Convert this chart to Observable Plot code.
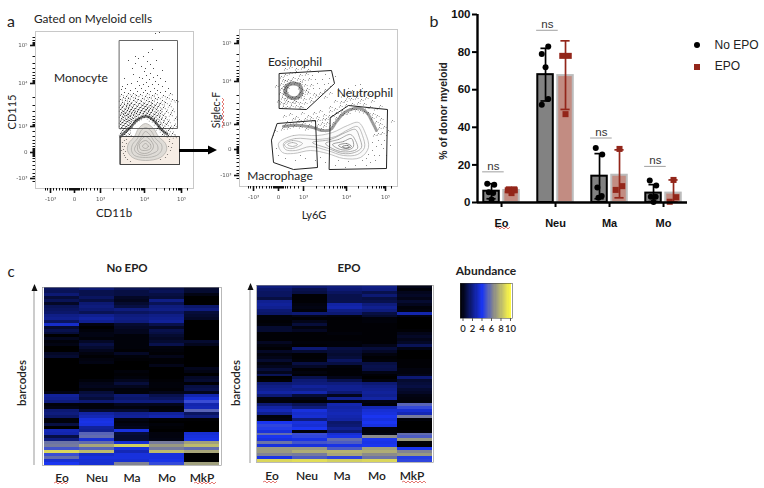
<!DOCTYPE html>
<html><head><meta charset="utf-8">
<script src="https://cdn.jsdelivr.net/npm/d3@7"></script>
<script src="https://cdn.jsdelivr.net/npm/@observablehq/plot@0.6"></script>
<style>
html,body{margin:0;padding:0;background:#fff;width:764px;height:488px;overflow:hidden}
#fig{position:relative;width:764px;height:488px;overflow:hidden;font-family:Lato,"Open Sans",sans-serif;color:#222}
.p{position:absolute}
.p svg{display:block;background:transparent;overflow:visible}
.l{position:absolute;white-space:nowrap;line-height:1;transform:translate(-50%,-50%)}
.flow{filter:blur(.35px)}
.heat{filter:blur(.4px)}
</style></head><body><div id="fig"></div>
<script>
// ---------- panel a: channel-scale flow data (axis ticks in channel units)
const flowAXTicks=[50,74,100,144,181], flowAXLabels=["-10³","0","10³","10⁴","10⁵"];
const flowAYTicks=[45,83,126,152,178], flowAYLabels=["10⁵","10⁴","10³","0","-10³"];
const flowAXMinor=[45,47,53,56,59,62,65,67,69,70,71,72,73,75,76,77,78,79,81,83,86,90,94,97,113,121,126,130,134,137,139,141,142,143,156,164,169,173,176,178,179,180,187];
const flowAYMinor=[37,40,42,43,44,56,63,68,72,75,78,80,81,82,97,105,111,116,119,122,124,125,131,136,140,143,146,148,149,150,151,153,154,155,156,158,161,165,169,173,176,181];
const flowAMonoGate=[[119,40],[177,40],[177,128],[119,128]];
const flowALowGate=[[120,136],[179,136],[179,164],[120,164]];
const flowARings=[
[[145,123],[153,128],[158,136],[165,143],[166,150],[160,157],[145,160],[132,157],[127,150],[128,143],[134,136],[138,128]],
[[145,127],[151,131],[155,138],[161,144],[161,150],[156,155],[145,157],[134,155],[131,150],[132,144],[137,138],[140,131]],
[[145,131],[150,135],[153,140],[157,145],[157,150],[152,153],[145,155],[137,153],[134,149],[136,144],[140,138]],
[[145,136],[151,141],[153,146],[150,151],[144,153],[138,151],[137,146],[140,140]],
[[145,140],[150,144],[150,148],[145,150],[140,149],[139,144]],
[[145,143],[148,146],[145,148],[142,146]]];
const flowABand=[[120,136],[124,132],[130,127],[136,120],[141,117],[146,116],[151,118],[156,123],[161,129],[167,134]];
const flowADots=[[155,33],[159,32],[144,71],[148,52],[143,56],[152,49],[135,56],[138,58],[147,61],[156,60],[150,64],[141,66],[145,68],[153,68],[135,63],[162,70],[150,73],[157,75],[139,77],[146,75],[133,74],[153,77],[142,78],[149,79],[160,78],[165,81],[137,81],[155,81],[146,82],[131,83],[152,84],[143,84],[139,85],[158,84],[127,84],[122,86],[148,86],[162,86],[125,88],[135,88],[154,88],[141,88],[168,88],[121,89],[145,90],[130,90],[157,90],[150,91],[137,91],[165,91],[124,92],[160,92],[143,92],[133,93],[128,93],[147,93],[155,93],[170,93],[121,94],[140,94],[152,95],[136,95],[163,95],[126,96],[145,96],[131,96],[158,97],[149,97],[123,97],[167,97],[142,98],[135,98],[128,98],[155,98],[172,99],[120,99],[138,99],[146,100],[152,100],[133,100],[162,100],[125,100],[141,101],[149,101],[129,101],[157,102],[122,102],[136,102],[165,102],[144,103],[131,103],[152,103],[127,103],[139,103],[160,103],[147,104],[124,104],[134,104],[155,105],[120,105],[142,105],[129,105],[150,105],[169,105],[137,106],[126,106],[145,106],[158,106],[132,107],[122,107],[153,107],[140,107],[163,107],[147,108],[128,108],[135,108],[143,108],[150,108],[125,109],[156,109],[138,109],[120,109],[131,109],[146,109],[160,110],[133,110],[141,110],[127,110],[152,110],[123,111],[137,111],[148,111],[144,111],[166,111],[129,111],[156,112],[134,112],[121,112],[140,112],[151,112],[125,113],[147,113],[131,113],[143,113],[160,113],[136,113],[128,114],[154,114],[123,114],[139,114],[149,114],[133,115],[163,115],[120,115],[126,115],[157,115],[145,115],[130,116],[142,116],[152,116],[136,116],[123,117],[148,117],[159,117],[128,117],[165,118],[133,118],[154,118],[139,118],[121,118],[126,119],[150,119],[161,119],[131,119],[137,119],[124,120],[156,120],[120,121],[129,120],[135,120],[153,120],[168,121],[127,121],[158,121],[122,122],[133,122],[163,122],[125,123],[155,123],[130,123],[120,124],[128,125],[160,124],[166,124],[123,125],[158,126],[126,126],[121,127],[163,127],[130,126],[170,127],[124,128],[157,128],[128,129],[161,130],[122,130],[168,130],[126,132],[165,132],[120,133],[172,133],[124,134],[162,134],[129,134],[168,135],[174,136],[172,110],[175,118],[170,114],[174,125],[176,100],[128,60],[124,78],[132,68]];
const flowAGreyDots=[[122,142],[124,146],[121,150],[123,153],[125,157],[127,159],[130,161],[124,140],[126,143],[168,146],[170,150],[167,154],[172,143],[165,157],[160,159],[122,146],[123,149],[125,151],[124,155],[126,139],[169,141],[171,147],[169,139]];
// ---------- panel a right: channel-scale flow data
const flowBXTicks=[253,278,303,346,385], flowBXLabels=["-10³","0","10³","10⁴","10⁵"];
const flowBYTicks=[43,81,124,149,175], flowBYLabels=["10⁵","10⁴","10³","0","-10³"];
const flowBXMinor=[248,250,256,259,262,266,269,271,273,274,275,276,277,279,280,281,282,283,285,287,290,294,298,316,324,329,333,337,340,342,344,345,358,367,372,376,379,381,383,384,391];
const flowBYMinor=[35,38,40,41,42,54,61,66,70,73,76,78,79,80,95,103,109,114,117,120,122,123,129,134,138,141,144,146,147,148,150,151,152,153,155,158,162,166,170,173,178];
const flowBEosGate=[[279,73],[331,70],[334,83],[306,109],[279,108]];
const flowBNeuGate=[[330,117],[348,105],[387,109],[386,168],[329,169]];
const flowBMacGate=[[277,123],[315,120],[317,167],[293,169],[273,162],[271,140]];
const flowBRings=[
[[278,143],[293,135],[317,135],[332,132],[347,125],[358,122],[365,133],[368,147],[360,157],[343,158],[327,153],[310,150],[293,153],[282,152]],
[[283,143],[295,138],[317,139],[335,136],[348,129],[357,126],[362,135],[364,147],[357,154],[343,155],[327,150],[310,146],[295,150],[285,149]],
[[284,144],[292,140],[302,143],[292,148],[286,147]],
[[287,144],[292,142],[297,144],[292,146]],
[[312,142],[330,139],[345,132],[355,129],[359,137],[361,147],[354,152],[342,153],[328,148]],
[[325,143],[338,139],[350,134],[355,140],[357,148],[350,151],[340,151],[330,147]],
[[332,144],[343,141],[351,138],[353,146],[349,149],[340,149]],
[[338,145],[346,143],[351,146],[345,148]],
[[342,146],[347,145],[349,146.5],[345,147.5]]];
const flowBBand=[[283,126],[291,125],[300,125],[312,127],[322,130],[330,129],[336,121],[343,113],[350,109],[360,108],[367,113],[372,122],[376,130]];
const flowBEosRing=[[293,83],[299,85],[301,91],[297,97],[290,97],[285,92],[287,85]];
const flowBDots=[[281,76],[285,74],[290,72],[296,71],[300,74],[306,73],[312,75],[318,72],[325,74],[329,78],[283,79],[288,79],[293,77],[298,78],[303,79],[309,78],[315,79],[322,79],[328,83],[281,83],[285,84],[289,83],[295,82],[300,83],[305,84],[311,84],[317,83],[324,84],[330,86],[281,88],[284,89],[287,87],[299,87],[302,89],[307,88],[313,88],[319,88],[325,89],[280,92],[283,94],[286,91],[300,92],[303,93],[308,92],[314,93],[320,92],[282,97],[285,98],[288,96],[292,97],[296,96],[299,97],[304,98],[310,97],[316,95],[281,102],[284,103],[288,101],[292,102],[296,101],[300,102],[305,102],[311,100],[283,106],[287,106],[291,105],[296,105],[301,106],[286,86],[284,92],[285,80],[291,80],[286,100],[294,100],[283,86],[302,95],[300,81],[306,90],[285,68],[290,66],[296,68],[302,67],[308,69],[276,85],[278,100],[335,76],[338,88],[330,92],[325,96],[335,100],[342,95],[347,92],[352,90],[358,92],[362,88],[345,100],[351,98],[356,97],[361,99],[366,97],[340,105],[346,104],[352,103],[358,102],[364,103],[370,106],[375,108],[380,105],[372,100],[368,93],[348,88],[355,85],[360,84],[342,110],[336,112],[332,115],[326,118],[330,110],[322,122],[318,119],[324,114],[330,106],[282,128],[285,124],[288,127],[291,122],[294,125],[297,121],[300,126],[303,122],[306,128],[309,124],[312,120],[315,126],[318,124],[321,128],[324,125],[327,122],[330,125],[333,122],[336,117],[340,114],[344,113],[348,112],[352,108],[356,109],[360,110],[364,111],[368,112],[372,117],[376,121],[379,127],[382,132],[380,123],[384,140],[383,148],[379,155],[375,160],[370,162],[366,165],[362,160],[368,154],[372,150],[376,146],[378,140],[374,134],[388,130],[390,145],[392,120],[386,155],[284,115],[290,113],[296,116],[302,112],[308,115],[314,112],[320,110],[300,106],[275,130],[273,135],[276,148],[278,155],[285,158],[295,160],[305,158],[315,160],[325,162],[335,165],[345,167],[355,165],[287,121],[293,118],[299,119],[305,118],[311,117],[317,116],[323,118],[329,115],[335,108],[341,101],[347,97],[353,94],[366,107],[373,113],[377,115],[381,118],[384,126],[378,133],[386,135],[381,144],[372,142],[374,155],[366,158],[348,161],[338,160],[320,157],[300,155]];
// ---------- panel b
const categories=["Eo","Neu","Ma","Mo"], groups=["No EPO","EPO"];
const meansNoEpo=[6,68,14,5], meansEpo=[6.4,67.5,14.5,5];
const loNoEpo=[2,54,2,0.5], hiNoEpo=[10,82,26,9.5];
const loEpo=[5.4,49.5,2.5,0.3], hiEpo=[7.5,86,28,12];
const nsHeights=[16.3,91.6,34.3,19.2];
const ptsNoEpo=[[0,-.08,10],[0,.05,9.5],[0,-.05,5.5],[0,.03,5],[0,0,1.6],[1,-.07,52],[1,.05,55],[1,0,72],[1,-.07,79],[1,.05,83],[2,-.07,29],[2,.05,25.5],[2,-.04,8],[2,.04,3.5],[2,-.02,2.5],[3,-.07,11.7],[3,.05,9],[3,-.05,3],[3,.04,3],[3,0,.2]];
const ptsEpo=[[0,-.05,7],[0,.05,7],[0,0,5],[0,-.07,6.5],[0,.06,6.5],[1,-.06,78],[1,.06,78],[1,0,47],[2,0,28.5],[2,.05,8.7],[2,-.07,6.7],[3,0,12],[3,.05,2.8],[3,-.07,.4]];
// ---------- panel c
const heatColumns=["Eo","Neu","Ma","Mo","MkP"];
const heatNoEpo=[[2,2.4,1.8,1.6,1],[1.8,1.6,1.4,1.8,1],[2.4,1.6,1.4,1.4,.4],[1.2,2,.8,1.2,0],[1.8,1.4,.6,2.8,0],[.8,2.4,1,1.8,0],[1.8,2.6,1.4,2.6,2.2],[2,2.4,2.6,2.8,2.6],[2.2,1.8,2,2.2,1.2],[2.8,3,2.6,2.8,1],[3,3.4,2.8,3,.8],[2,3,2.6,3.2,0],[4.2,.3,1,1.6,0],[1,0,.8,.8,0],[1.6,.2,.6,1.6,0],[1.2,.4,.6,1.4,0],[0,.4,.2,1,0],[.6,.2,.2,.8,0],[.2,.8,.2,1,1],[.4,1.4,.2,1.6,.6],[0,1,.2,.3,0],[0,.6,.1,.2,0],[.8,.3,.8,.1,0],[1,.1,.2,.5,0],[0,.3,.1,.1,0],[0,.4,0,.1,0],[0,0,0,.5,0],[0,0,0,0,.6],[0,0,.2,0,.4],[0,0,.1,0,0],
[0,0,.2,0,.8],[0,.2,.6,.1,1],[0,.5,1.2,.2,.1],[0,.6,.6,.2,1.4],[0,.3,.2,.1,1.6],[.4,1.2,.2,.5,.6],[3.2,1.6,2.4,1.6,3.6],[3,1.2,2.2,2,4.4],[2.6,2.4,2.6,2.6,5.6],[.2,.2,.6,.6,3.6],[.4,.2,.3,.2,3.8],[2.4,1,1,.3,6.2],[2.6,3.4,3,3.2,2],[2.2,3.8,3.2,3.6,2.6],[.2,4.6,.4,.1,.1],[.2,4.8,.2,0,0],[1.4,4.6,.4,.2,0],[0,3.2,.6,.1,0],[3.8,3,4.6,0,0],[3.6,6.2,1.2,.3,4.4],[1.4,6.4,1,.3,4.6],[2.6,4.4,1,.4,4.8],[6.6,6.4,4.4,6.8,7.8],[6.8,8,9.2,7.6,8.6],[5.8,6.2,4.6,6.8,6.4],[9.4,8.6,3.8,8.6,8],[5.6,4.2,4.6,4.6,0],[6.4,4.6,4.6,4.6,0],[4.4,4.4,4.4,4.8,0],[5,4.4,7,5.5,7.8]];
const heatEpo=[[2.6,2.4,2.6,2.8,.5],[2.2,1.6,2.4,2.6,.2],[2,1.4,2,1.6,.6],[2,.1,1.6,2.4,.8],[1.4,.1,1.6,1.4,.5],[3,.1,1.6,1.6,1],[3.2,.3,3.4,2.6,.6],[3,.4,3.6,3,.2],[2.4,.2,2.8,2.6,.3],[2.2,2.4,2.4,1.4,3.6],[.2,.5,.3,1,.4],[.2,.1,.1,.2,0],[.1,.5,.1,.2,0],[.2,1.2,.1,.1,0],[1,.3,.1,.1,0],[1,.7,.1,.1,.1],[.1,.1,.2,.1,.5],[.1,.1,.1,.1,.8],[.1,.1,.1,.1,.5],[.7,.2,.2,.1,.8],[.3,.1,.2,.5,1.8],[.1,2.4,1.4,1.2,.4],[.8,1,1.2,.8,0],[.3,.1,1,.3,0],[.5,.1,1.2,.1,0],[1,.2,2,.2,.1],[.3,1.4,1.4,1.4,.1],[.6,.8,.2,1.6,.1],[1.2,.1,.1,1.5,.3],[.6,.3,.1,.4,.3],
[1.8,.1,.1,.1,.5],[0,1.6,.5,0,2.4],[.1,2.4,1.6,.3,1],[2.4,2.6,2.6,2.4,1.2],[2.8,3.2,3,2.8,1.4],[3,2.8,3,3,1],[3.4,3.6,2.4,3.2,.8],[2.4,1.2,.6,3,.4],[.3,.4,3,3.4,.3],[.2,.1,.3,.4,.2],[2.4,1.8,3.6,.2,6.2],[3.4,2.6,3.4,3.8,5.5],[3.8,4.6,3.6,4.4,4.4],[3,4.2,3.8,4.6,3.8],[.2,4.4,3.6,5,6.8],[.3,2.6,3.4,4.6,.2],[5,4.6,2.2,5,0],[5.4,4.4,2.4,4.6,0],[5.2,5,3,.2,0],[4.6,.2,2.4,.2,.1],[6.4,5.6,4.4,.4,6.4],[5,5.4,4.8,7.2,6],[4.6,4.8,6.4,5,7.6],[6.6,5.8,6,4.8,.2],[4.6,4.6,4.8,5,.1],[7.6,7.6,6,7.8,5],[7.6,8.2,8.4,8.2,7],[7,6.8,8,7.2,7.6],[4.8,6,5.4,6.6,5.2],[9.4,9.6,9.2,9.4,5.4]];
const legendStops=[0,.25,.5,.75,1,1.25,1.5,1.75,2,2.25,2.5,2.75,3,3.25,3.5,3.75,4,4.25,4.5,4.75,5,5.25,5.5,5.75,6,6.25,6.5,6.75,7,7.25,7.5,7.75,8,8.25,8.5,8.75,9,9.25,9.5,9.75,10,10.25,10.5];
const legendTicks=[0,2,4,6,8,10];
const heatDomain=[0,5,7.2,10], heatRange=["#000000","#1a35f0","#8b8b8a","#efeb4e"];

const fig=document.getElementById("fig");
function place(el,l,t,cls){const d=document.createElement("div");d.className="p "+(cls||"");d.style.left=l+"px";d.style.top=t+"px";d.appendChild(el);fig.appendChild(d);}
function label(txt,x,y,size,opt={}){const d=document.createElement("div");d.className="l";d.textContent=txt;d.style.left=x+"px";d.style.top=y+"px";d.style.fontSize=size+"px";if(opt.bold)d.style.fontWeight=opt.bold;if(opt.font)d.style.fontFamily=opt.font;if(opt.rotate)d.style.transform=`translate(-50%,-50%) rotate(${opt.rotate}deg)`;if(opt.color)d.style.color=opt.color;fig.appendChild(d);}
const X=d=>d[0],Y=d=>d[1];
const flowTick={fontSize:5.5,fontFamily:"DejaVu Sans",fill:"#555"};
function flow(o){
 const [x0,x1]=o.xDom,[y0,y1]=o.yDom;
 const pl=Plot.plot({width:o.w,height:o.h,marginLeft:x0-o.left,marginRight:o.left+o.w-x1,marginTop:y0-o.top,marginBottom:o.top+o.h-y1,
  x:{domain:[x0,x1],axis:null},y:{domain:[y1,y0],axis:null},
  marks:[
   Plot.frame({stroke:"#c8c8c8",strokeWidth:1}),
   ...o.under,
   ...o.rings.map((r,i)=>Plot.line(r,{x:X,y:Y,curve:"catmull-rom-closed",stroke:o.ringCol[Math.min(i,o.ringCol.length-1)],strokeWidth:.7,fill:i==0?o.ringFill:"none"})),
   ...o.over,
   Plot.axisX({ticks:o.xMinor,tickSize:2.5,tickFormat:()=>"",anchor:"bottom",strokeWidth:1,stroke:"#111",label:null}),
   Plot.axisX({ticks:o.xTicks,tickSize:5,tickPadding:4,tickFormat:(d,i)=>o.xLabels[i],anchor:"bottom",strokeWidth:1.6,stroke:"#111",label:null,...flowTick}),
   Plot.axisY({ticks:o.yMinor,tickSize:2.5,tickFormat:()=>"",anchor:"left",strokeWidth:1,stroke:"#111",label:null}),
   Plot.axisY({ticks:o.yTicks,tickSize:5,tickPadding:3,tickFormat:(d,i)=>o.yLabels[i],anchor:"left",strokeWidth:1.6,stroke:"#111",label:null,...flowTick})
  ]});
 place(pl,o.left,o.top,"flow");
}
const gate=(pts,fill,stroke)=>Plot.line(pts,{x:X,y:Y,curve:"linear-closed",stroke:stroke,strokeWidth:1,fill:fill});
const dots=(pts,fill,r,dx=0,dy=0)=>Plot.dot(pts,{x:X,y:Y,r:r,fill:fill,stroke:"none",dx,dy});
const band=(pts,w,dash,op,c)=>Plot.line(pts,{x:X,y:Y,curve:"catmull-rom",stroke:c||"#111",strokeWidth:w,strokeDasharray:dash,strokeOpacity:op});
const denseA=flowADots.filter(d=>d[1]>92), denseA2=flowADots.filter(d=>d[1]>104);
const denseB=flowBDots.filter(d=>(d[0]<312&&d[1]<108)||(d[1]>88&&d[1]<135));

flow({left:0,top:20,w:205,h:185,xDom:[35,193],yDom:[31,188],xTicks:flowAXTicks,xLabels:flowAXLabels,yTicks:flowAYTicks,yLabels:flowAYLabels,xMinor:flowAXMinor,yMinor:flowAYMinor,
 rings:flowARings,ringCol:["#aaa8a4","#a8a6a2","#a3a19d","#a09e9a"],ringFill:"#dfdcd7",
 under:[gate(flowALowGate,"#f6ede5","#444")],
 over:[gate(flowAMonoGate,"none","#666"),dots(flowAGreyDots,"#6e6a66",.6),dots(flowADots,"#111",.5),
  dots(denseA,"#111",.45,1.7,1.2),dots(denseA,"#111",.45,-1.3,1.6),dots(denseA2,"#111",.45,.8,-1.5),
  band(flowABand,2.6,"1 .9 1.6 .6 .7 1.2",.6),gate(flowALowGate,"none","#444")]});
flow({left:205,top:20,w:200,h:185,xDom:[239,397],yDom:[29,186],xTicks:flowBXTicks,xLabels:flowBXLabels,yTicks:flowBYTicks,yLabels:flowBYLabels,xMinor:flowBXMinor,yMinor:flowBYMinor,
 rings:flowBRings,ringCol:["#a8a8a8","#a4a4a4","#a0a0a0","#9a9a9a","#909090","#888","#777","#666","#555"],ringFill:"#fbfbfb",
 under:[],
 over:[dots(flowBDots,"#111",.45),dots(denseB,"#111",.42,1.6,1.1),dots(denseB,"#111",.42,-1.2,1.5),band(flowBBand,3,"1 1.4 1.5 1 .6 1.6",.42),
  Plot.line(flowBEosRing,{x:X,y:Y,curve:"catmull-rom-closed",stroke:"#111",strokeWidth:4,strokeDasharray:".9 1.2 1.3 .9",strokeOpacity:.45}),
  gate(flowBEosGate,"none","#222"),gate(flowBNeuGate,"none","#222"),gate(flowBMacGate,"none","#222")]});

// ---------- bar chart
const offset=.185,bw=.287;
const pos=(i,g)=>i+.5+(g?offset:-offset);
const barData=[...categories.map((c,i)=>({i,g:0,m:meansNoEpo[i],lo:loNoEpo[i],hi:hiNoEpo[i]})),...categories.map((c,i)=>({i,g:1,m:meansEpo[i],lo:loEpo[i],hi:hiEpo[i]}))];
const red="#93261a",capW=.085;
const seriesMarks=(g,col)=>{const data=barData.filter(d=>d.g==g);return [
 Plot.ruleX(data,{x:d=>pos(d.i,g),y1:"lo",y2:"hi",stroke:col,strokeWidth:1.7}),
 Plot.ruleY(data,{y:"hi",x1:d=>pos(d.i,g)-capW,x2:d=>pos(d.i,g)+capW,stroke:col,strokeWidth:1.7}),
 Plot.ruleY(data,{y:"lo",x1:d=>pos(d.i,g)-capW,x2:d=>pos(d.i,g)+capW,stroke:col,strokeWidth:1.7})];};
const barPlot=Plot.plot({width:344,height:240,marginLeft:57,marginRight:77,marginTop:14,marginBottom:38,
 x:{domain:[.055,3.944],axis:null},y:{domain:[0,100],axis:null},
 style:{fontFamily:"Liberation Sans",fontWeight:"bold",color:"#111"},
 marks:[
  Plot.rect(barData.filter(d=>d.g==0),{x1:d=>pos(d.i,0)-bw/2,x2:d=>pos(d.i,0)+bw/2,y1:0,y2:"m",fill:"#828282",stroke:"#000",strokeWidth:2}),
  Plot.rect(barData.filter(d=>d.g==1),{x1:d=>pos(d.i,1)-bw/2,x2:d=>pos(d.i,1)+bw/2,y1:0,y2:"m",fill:"#c28c82",stroke:"#bcbcbc",strokeWidth:2}),
  ...seriesMarks(0,"#000"),...seriesMarks(1,red),
  Plot.dot(ptsNoEpo,{x:d=>pos(d[0],0)+d[1],y:d=>d[2],r:3,fill:"#000"}),
  Plot.dot(ptsEpo,{x:d=>pos(d[0],1)+d[1],y:d=>d[2],r:3.4,symbol:"square",fill:red}),
  Plot.ruleY(nsHeights,{y:d=>d,x1:(d,i)=>i+.35-.2,x2:(d,i)=>i+.35+.2,stroke:"#888",strokeWidth:.8}),
  Plot.text(nsHeights,{y:d=>d,x:(d,i)=>i+.35,text:()=>"ns",dy:-6,fontSize:11.5,fontWeight:"normal",fill:"#333"}),
  Plot.ruleX([.055],{stroke:"#000",strokeWidth:2.4}),
  Plot.ruleY([0],{stroke:"#000",strokeWidth:2.4}),
  Plot.axisY({anchor:"left",ticks:[0,20,40,60,80,100],tickSize:5,tickPadding:2,strokeWidth:2,stroke:"#000",fontSize:11.5,fontWeight:"bold",fill:"#111",label:null}),
  Plot.axisX({anchor:"bottom",ticks:[.5,1.5,2.5,3.5],tickSize:5,tickPadding:12,tickFormat:(d,i)=>categories[i],strokeWidth:2,stroke:"#000",fontSize:11,fontWeight:"bold",fill:"#111",label:null})
 ]});
place(barPlot,420,0);

// ---------- heatmaps
function heat(rows,l,t,w,h,dx,pad){
 const tidy=rows.flatMap((r,i)=>r.map((v,j)=>({row:i,col:heatColumns[j],v})));
 const pl=Plot.plot({width:w,height:h,marginLeft:0,marginRight:0,marginTop:0,marginBottom:0,
  x:{domain:heatColumns,padding:0,axis:null,type:"band"},y:{domain:rows.map((r,i)=>i),padding:0,axis:null,type:"band"},
  color:{type:"linear",domain:heatDomain,range:heatRange},
  marks:[Plot.cell(tidy,{x:"col",y:"row",fill:"v",stroke:"none",shapeRendering:"crispEdges"}),Plot.frame({stroke:"#8a8a8a",strokeWidth:.6})]});
 place(pl,l,t,"heat");
 const ax=Plot.plot({width:w,height:22,marginLeft:0,marginRight:0,marginTop:0,marginBottom:22,
  x:{domain:heatColumns,padding:0,axis:null,type:"band"},y:{axis:null,domain:[0,1]},
  marks:[Plot.axisX({anchor:"bottom",tickSize:0,tickPadding:pad,dx,fontSize:12,fontWeight:600,fontFamily:"Lato",fill:"#222",label:null})]});
 place(ax,l,t+h,"");
}
heat(heatNoEpo,42,287,179,178,0,8);
heat(heatEpo,256,285,177,177,-3,9);

const legendPlot=Plot.plot({width:72,height:60,marginLeft:4,marginRight:16,marginTop:0,marginBottom:25,
 x:{domain:[0,10.95],axis:null},y:{domain:[0,1],axis:null},
 color:{type:"linear",domain:[0,4.5,7,10],range:heatRange},
 marks:[Plot.rect(legendStops,{x1:d=>d,x2:d=>d+.25,y1:0,y2:1,fill:d=>d,stroke:"none",shapeRendering:"crispEdges"}),
  Plot.frame({stroke:"#333",strokeWidth:.5}),
  Plot.axisX({anchor:"bottom",ticks:legendTicks,tickSize:3,tickPadding:4,dx:2.5,fontSize:9.5,fontFamily:"Lato",fontWeight:600,fill:"#222",stroke:"#555",label:null})]});
place(legendPlot,456,283);

// ---------- text
label("a",11,21,16);label("b",434,21,16);label("c",11,271,15);
label("Gated on Myeloid cells",93,19,11.8);
label("Monocyte",81,78,12);
label("CD115",11,112,11,{rotate:-90});label("CD11b",114,213,11.5);
label("Eosinophil",295,62,12);label("Neutrophil",365,93,12);label("Macrophage",280,176,12);
label("Siglec-F",216,110,10.5,{rotate:-90});label("Ly6G",314,214,11);
label("% of donor myeloid",443,111,10.5,{rotate:-90,bold:"bold",font:"Liberation Sans"});
label("No EPO",736.5,45,12,{font:"Liberation Sans"});label("EPO",727.5,66,12,{font:"Liberation Sans"});
label("No EPO",127,268,11.5,{bold:700});label("EPO",349,268,11.5,{bold:700});
label("barcodes",22,383,11.5,{rotate:-90,bold:600});label("barcodes",236,383,11.5,{rotate:-90,bold:600});
label("Abundance",486,271,12,{bold:700});
const mk=(sym,color,x,y)=>{const d=document.createElement("div");d.style.cssText=`position:absolute;left:${x-3}px;top:${y-3}px;width:6px;height:6px;background:${color};${sym?"":"border-radius:50%"}`;fig.appendChild(d);};
mk(0,"#000",697,45);mk(1,red,697,67);

// ---------- overlay arrows + spell-check squiggles
const NS="http://www.w3.org/2000/svg";
const ov=document.createElementNS(NS,"svg");ov.setAttribute("width",764);ov.setAttribute("height",488);ov.style.cssText="position:absolute;left:0;top:0;pointer-events:none";
const pth=(d,a)=>{const p=document.createElementNS(NS,"path");p.setAttribute("d",d);for(const k in a)p.setAttribute(k,a[k]);ov.appendChild(p);};
pth("M179 150.5H209",{stroke:"#000","stroke-width":3,fill:"none"});pth("M208 145.5L217 150L208 154.5Z",{fill:"#000"});
pth("M34 465V288",{stroke:"#aaa","stroke-width":1.2,fill:"none"});pth("M31.5 291L34.5 284L37.5 291Z",{fill:"#111"});
pth("M250 463V286",{stroke:"#aaa","stroke-width":1.2,fill:"none"});pth("M247.5 290L250.5 283L253.5 290Z",{fill:"#111"});
const sq=(x1,y,x2)=>{let d=`M${x1} ${y}`,up=true;for(let x=x1+2;x<=x2;x+=2){d+=`L${x} ${y+(up?-1:1)}`;up=!up;}pth(d,{stroke:"#d9403a","stroke-width":.7,fill:"none"});};
sq(54,483,69);sq(194,483,217);sq(263,482,278);sq(402,482,426);sq(496,228,511);
{let d="M223 128",l=true;for(let y=126;y>=97;y-=2){d+=`L${223+(l?-1:1)} ${y}`;l=!l;}pth(d,{stroke:"#d9403a","stroke-width":.7,fill:"none"});}
fig.appendChild(ov);
</script></body></html>
